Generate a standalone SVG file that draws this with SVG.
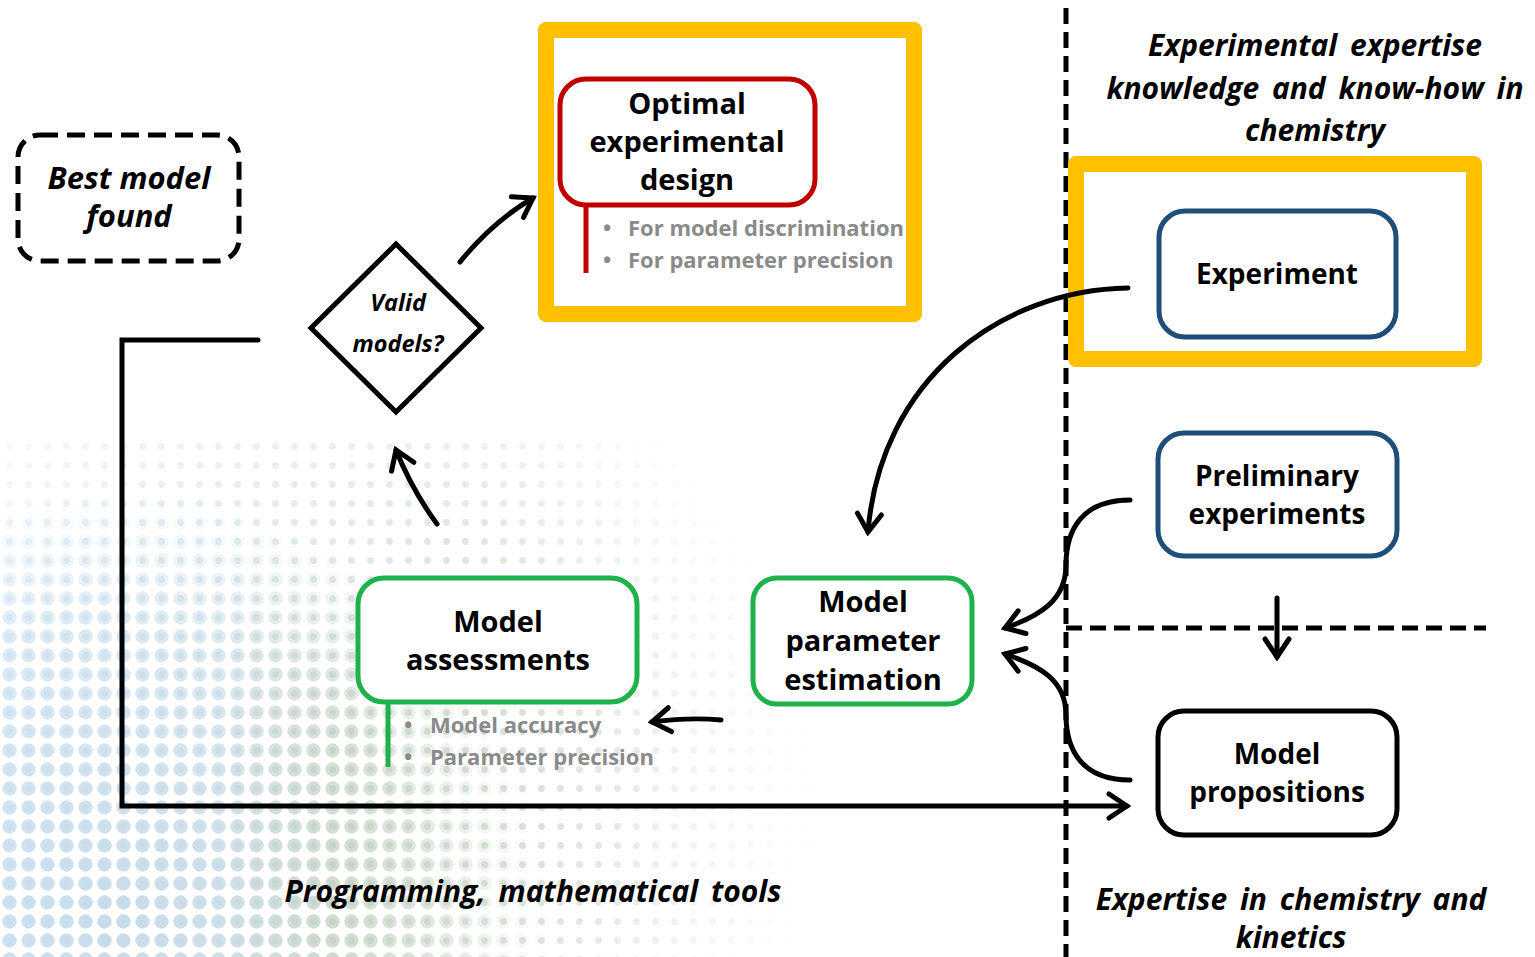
<svg xmlns="http://www.w3.org/2000/svg" width="1535" height="957" viewBox="0 0 1535 957">
  <style>
    .t { font-family: "Open Sans", Lato, "Liberation Sans", sans-serif; font-weight: 700; fill: #000; text-anchor: middle; }
    .it { font-style: italic; }
    .lbl { font-size: 30px; word-spacing: 5px; }
    .sub { font-family: "Open Sans", Lato, "Liberation Sans", sans-serif; font-weight: 700; fill: #8a8a8a; font-size: 22px; }
    .arr { fill: none; stroke: #000; stroke-width: 5; stroke-linecap: round; marker-end: url(#head); }
    .hl { fill: none; stroke: #FFC000; stroke-width: 16; stroke-linejoin: round; }
    .box { fill: #fff; stroke-width: 5; }
    .dash { fill: none; stroke: #000; stroke-width: 5; stroke-dasharray: 16 8; }
  </style>
  <defs>
    <marker id="head" viewBox="0 0 30 30" refX="26" refY="15" markerWidth="30" markerHeight="30" markerUnits="userSpaceOnUse" orient="auto">
      <path d="M8,3 L26,15 L8,27" fill="none" stroke="#000" stroke-width="5" stroke-linejoin="miter" stroke-linecap="round"/>
    </marker>
    <!-- halftone dot tiles -->
    <pattern id="dotL" width="19" height="19" patternUnits="userSpaceOnUse">
      <circle cx="9.5" cy="9.5" r="7.2" fill="#fff"/>
    </pattern>
    <pattern id="dotS" width="19" height="19" patternUnits="userSpaceOnUse">
      <circle cx="9.5" cy="9.5" r="3.4" fill="#fff"/>
    </pattern>
    <linearGradient id="tint" x1="0" y1="0" x2="1" y2="0" gradientUnits="objectBoundingBox">
      <stop offset="0" stop-color="#c5dcee"/>
      <stop offset="0.35" stop-color="#c8dbe6"/>
      <stop offset="0.55" stop-color="#bfcdbb"/>
      <stop offset="1" stop-color="#dfe8e0"/>
    </linearGradient>
    <radialGradient id="fadeL" cx="120" cy="930" r="440" gradientUnits="userSpaceOnUse">
      <stop offset="0" stop-color="#fff" stop-opacity="1"/>
      <stop offset="0.7" stop-color="#fff" stop-opacity="0.6"/>
      <stop offset="1" stop-color="#fff" stop-opacity="0"/>
    </radialGradient>
    <radialGradient id="fadeS" cx="300" cy="800" r="520" gradientUnits="userSpaceOnUse">
      <stop offset="0" stop-color="#fff" stop-opacity="0.9"/>
      <stop offset="0.6" stop-color="#fff" stop-opacity="0.5"/>
      <stop offset="1" stop-color="#fff" stop-opacity="0"/>
    </radialGradient>
    <mask id="mL" maskUnits="userSpaceOnUse" x="0" y="0" width="1535" height="957">
      <rect x="0" y="0" width="1535" height="957" fill="url(#dotL)"/>
    </mask>
    <mask id="mS" maskUnits="userSpaceOnUse" x="0" y="0" width="1535" height="957">
      <rect x="0" y="0" width="1535" height="957" fill="url(#dotS)"/>
    </mask>
    <mask id="fL" maskUnits="userSpaceOnUse" x="0" y="0" width="1535" height="957">
      <rect x="0" y="0" width="1535" height="957" fill="url(#fadeL)"/>
    </mask>
    <mask id="fS" maskUnits="userSpaceOnUse" x="0" y="0" width="1535" height="957">
      <rect x="0" y="0" width="1535" height="957" fill="url(#fadeS)"/>
    </mask>
  </defs>

  <rect width="1535" height="957" fill="#fff"/>

  <!-- halftone background, lower left -->
  <g id="halftone">
    <g mask="url(#fS)">
      <rect x="0" y="440" width="900" height="517" fill="url(#tint)" mask="url(#mS)"/>
    </g>
    <g mask="url(#fL)">
      <rect x="0" y="500" width="620" height="457" fill="url(#tint)" mask="url(#mL)"/>
    </g>
  </g>

  <!-- divider lines between domains -->
  <g id="dividers">
    <line class="dash" x1="1066" y1="8" x2="1066" y2="957" stroke-dasharray="14 7"/>
    <line class="dash" x1="1066" y1="628" x2="1486" y2="628"/>
  </g>

  <!-- highlight frames -->
  <g id="highlights">
    <rect class="hl" x="546" y="30" width="368" height="284"/>
    <rect class="hl" x="1076" y="164" width="398" height="195"/>
  </g>

  <!-- connectors -->
  <g id="connectors">
    <path class="arr" d="M460,262 Q492,222 533,198"/>
    <path class="arr" d="M437,524 Q412,490 396,450"/>
    <path class="arr" d="M721,720 Q690,717 652,722"/>
    <path class="arr" d="M1128,288 C1000,290 880,380 868,532"/>
    <path class="arr" d="M1130,500 C1082,500 1066,530 1066,565 C1066,600 1040,616 1005,628"/>
    <path class="arr" d="M1130,780 C1082,780 1066,750 1066,715 C1066,680 1040,666 1005,654"/>
    <path class="arr" d="M1277,598 L1277,657"/>
    <path class="arr" d="M258,340 H122 V806 H1127" stroke-linecap="butt"/>
  </g>

  <g id="best-model">
    <rect x="18" y="135" width="221" height="126" rx="22" fill="#fff" stroke="#000" stroke-width="5" stroke-dasharray="18 9"/>
    <text class="t it" x="129" y="189" font-size="31">Best model</text>
    <text class="t it" x="129" y="227" font-size="31">found</text>
  </g>

  <g id="valid-models">
    <polygon points="396,244 481,328 396,412 311,328" fill="#fff" stroke="#000" stroke-width="5"/>
    <text class="t it" x="398" y="311" font-size="23.5">Valid</text>
    <text class="t it" x="398" y="352" font-size="23.5">models?</text>
  </g>

  <g id="optimal-design">
    <line x1="586" y1="203" x2="586" y2="273" stroke="#C00000" stroke-width="5"/>
    <rect class="box" x="560" y="79" width="255" height="126" rx="26" stroke="#C00000"/>
    <text class="t" x="687" y="114" font-size="29">Optimal</text>
    <text class="t" x="687" y="152" font-size="29">experimental</text>
    <text class="t" x="687" y="190" font-size="29">design</text>
    <text class="sub" x="603" y="236">•</text>
    <text class="sub" x="628" y="236">For model discrimination</text>
    <text class="sub" x="603" y="268">•</text>
    <text class="sub" x="628" y="268">For parameter precision</text>
  </g>

  <g id="experiment">
    <rect class="box" x="1159" y="211" width="237" height="126" rx="26" stroke="#1F4E79"/>
    <text class="t" x="1277" y="284" font-size="28">Experiment</text>
  </g>

  <g id="preliminary">
    <rect class="box" x="1158" y="433" width="239" height="123" rx="26" stroke="#1F4E79"/>
    <text class="t" x="1277" y="486" font-size="28">Preliminary</text>
    <text class="t" x="1277" y="524" font-size="28">experiments</text>
  </g>

  <g id="propositions">
    <rect class="box" x="1158" y="711" width="239" height="124" rx="26" stroke="#000"/>
    <text class="t" x="1277" y="764" font-size="28">Model</text>
    <text class="t" x="1277" y="802" font-size="28">propositions</text>
  </g>

  <g id="estimation">
    <rect class="box" x="753" y="578" width="219" height="126" rx="24" stroke="#1EB14C"/>
    <text class="t" x="863" y="612" font-size="29">Model</text>
    <text class="t" x="863" y="651" font-size="29">parameter</text>
    <text class="t" x="863" y="690" font-size="29">estimation</text>
  </g>

  <g id="assessments">
    <line x1="388" y1="700" x2="388" y2="767" stroke="#1EB14C" stroke-width="5"/>
    <rect class="box" x="358" y="578" width="279" height="124" rx="26" stroke="#1EB14C"/>
    <text class="t" x="498" y="632" font-size="29">Model</text>
    <text class="t" x="498" y="670" font-size="29">assessments</text>
    <text class="sub" x="404" y="733">•</text>
    <text class="sub" x="430" y="733">Model accuracy</text>
    <text class="sub" x="404" y="765">•</text>
    <text class="sub" x="430" y="765">Parameter precision</text>
  </g>

  <g id="domain-labels">
    <text class="t it lbl" x="1315" y="56">Experimental expertise</text>
    <text class="t it lbl" x="1315" y="99">knowledge and know-how in</text>
    <text class="t it lbl" x="1315" y="141">chemistry</text>
    <text class="t it lbl" x="533" y="902">Programming, mathematical tools</text>
    <text class="t it lbl" x="1291" y="910">Expertise in chemistry and</text>
    <text class="t it lbl" x="1291" y="948">kinetics</text>
  </g>
</svg>
